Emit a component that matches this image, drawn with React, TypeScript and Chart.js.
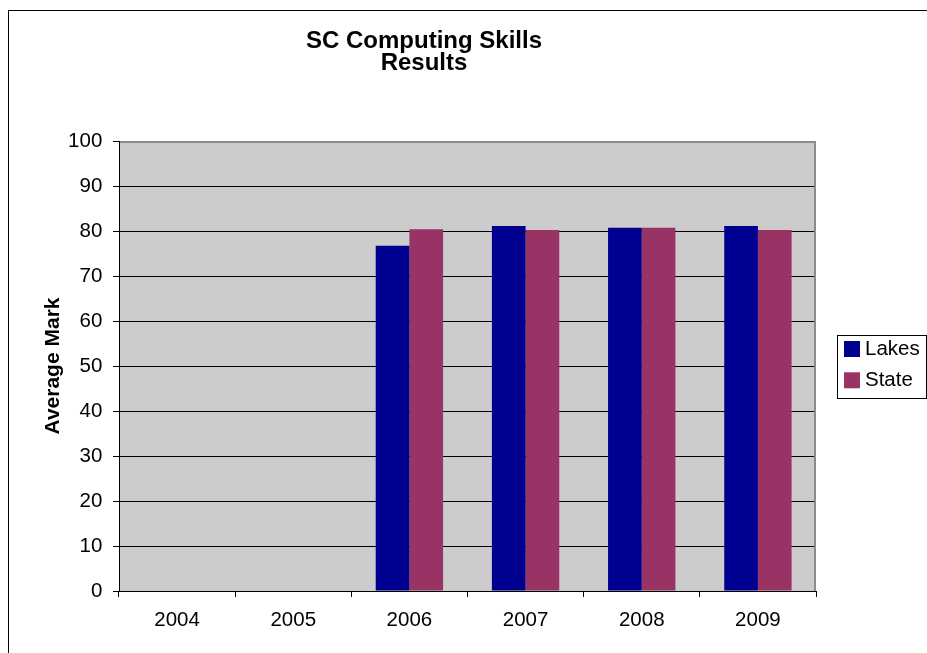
import React, { useEffect, useRef } from "react";
import { Chart, registerables } from "chart.js";

Chart.register(...registerables);

const titleLines = ["SC Computing Skills", "Results"];
const yAxisTitle = "Average Mark";
const categories = ["2004", "2005", "2006", "2007", "2008", "2009"];
const lakesValues = [null, null, 76.7, 81.1, 80.7, 81.1];
const stateValues = [null, null, 80.4, 80.2, 80.7, 80.2];
const seriesNames = ["Lakes", "State"];
const seriesColors = ["#000090", "#993366"];
const yMin = 0;
const yMax = 100;
const yStep = 10;

const FONT = 'Arial, "Liberation Sans", sans-serif';

const framePlugin = {
  id: "frame",
  beforeDraw(chart: any) {
    const { ctx, chartArea } = chart;
    ctx.save();
    ctx.fillStyle = "#ffffff";
    ctx.fillRect(0, 0, chart.width, chart.height);
    ctx.strokeStyle = "#000000";
    ctx.lineWidth = 1;
    ctx.strokeRect(8.5, 10.5, 2000, 2000);
    ctx.fillStyle = "#CCCCCC";
    ctx.fillRect(chartArea.left, chartArea.top, chartArea.right - chartArea.left, chartArea.bottom - chartArea.top);
    ctx.restore();
  },
  afterDraw(chart: any) {
    const { ctx, chartArea } = chart;
    ctx.save();
    // plot area top / right border
    ctx.strokeStyle = "#8c8c8c";
    ctx.lineWidth = 2;
    ctx.beginPath();
    ctx.moveTo(chartArea.left + 1, chartArea.top + 1);
    ctx.lineTo(chartArea.right - 1, chartArea.top + 1);
    ctx.lineTo(chartArea.right - 1, chartArea.bottom);
    ctx.stroke();

    // legend
    const ds = chart.data.datasets;
    const boxLeft = 837.5;
    const boxTop = 335.5;
    const boxRight = 926.5;
    const boxBottom = 398.5;
    ctx.fillStyle = "#ffffff";
    ctx.fillRect(boxLeft, boxTop, boxRight - boxLeft, boxBottom - boxTop);
    ctx.strokeStyle = "#000000";
    ctx.lineWidth = 1;
    ctx.strokeRect(boxLeft, boxTop, boxRight - boxLeft, boxBottom - boxTop);
    ctx.font = `20.5px ${FONT}`;
    ctx.textBaseline = "middle";
    ctx.textAlign = "left";
    ds.forEach((d: any, i: number) => {
      const y = 341 + i * 31.3;
      ctx.fillStyle = d.backgroundColor;
      ctx.fillRect(844, y, 16, 16);
      ctx.fillStyle = "#000000";
      ctx.fillText(d.label, 865, y + 8.5);
    });
    ctx.restore();
  },
};

export default function App() {
  const canvasRef = useRef<HTMLCanvasElement | null>(null);

  useEffect(() => {
    if (!canvasRef.current) return;
    Chart.defaults.font.family = FONT;
    Chart.defaults.color = "#000000";
    const chart = new Chart(canvasRef.current, {
      type: "bar",
      data: {
        labels: categories,
        datasets: [
          {
            label: seriesNames[0],
            data: lakesValues,
            backgroundColor: seriesColors[0],
            borderWidth: 0,
            categoryPercentage: 0.58,
            barPercentage: 1,
          },
          {
            label: seriesNames[1],
            data: stateValues,
            backgroundColor: seriesColors[1],
            borderWidth: 0,
            categoryPercentage: 0.58,
            barPercentage: 1,
          },
        ],
      },
      options: {
        responsive: false,
        animation: false,
        layout: { padding: { left: 32, right: 111, top: 0, bottom: 0 } },
        plugins: {
          legend: { display: false },
          tooltip: { enabled: false },
          title: {
            display: true,
            text: titleLines,
            color: "#000000",
            font: { family: FONT, size: 24, weight: "bold", lineHeight: "22px" },
            padding: { top: 30, bottom: 67 },
          },
        },
        scales: {
          x: {
            offset: true,
            grid: {
              display: true,
              drawOnChartArea: false,
              drawTicks: true,
              tickLength: 6,
              tickColor: "#000000",
              color: "#000000",
            },
            border: { display: true, color: "#000000", width: 1 },
            ticks: {
              color: "#000000",
              font: { family: FONT, size: 20.5 },
              padding: 11.2,
              maxRotation: 0,
              autoSkip: false,
            },
            afterFit: (scale: any) => {
              scale.height = 62;
            },
          },
          y: {
            min: yMin,
            max: yMax,
            grid: {
              drawTicks: true,
              tickLength: 6,
              tickColor: "#000000",
              color: (c: any) => (c.tick && c.tick.value === yMax ? "#8c8c8c" : "#000000"),
            },
            border: { display: true, color: "#000000", width: 1 },
            ticks: {
              stepSize: yStep,
              color: "#000000",
              font: { family: FONT, size: 20.5 },
              padding: 10.7,
            },
            title: {
              display: true,
              text: yAxisTitle,
              color: "#000000",
              font: { family: FONT, size: 21, weight: "bold" },
              padding: { top: 9, bottom: 4 },
            },
            afterFit: (scale: any) => {
              scale.width = 87;
            },
          },
        },
      },
      plugins: [framePlugin],
    });
    return () => chart.destroy();
  }, []);

  return (
    <div style={{ position: "absolute", left: 0, top: 0, width: 927, height: 653 }}>
      <canvas ref={canvasRef} width={927} height={653} style={{ display: "block" }} />
    </div>
  );
}
